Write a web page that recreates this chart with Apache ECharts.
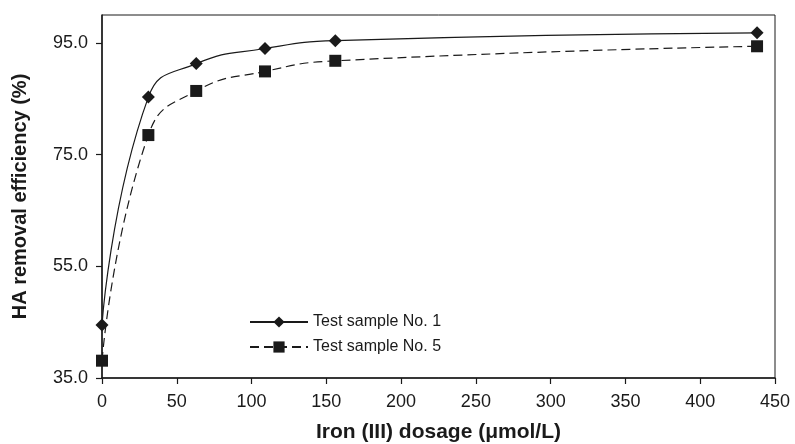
<!DOCTYPE html>
<html>
<head>
<meta charset="utf-8">
<script src="https://cdn.jsdelivr.net/npm/echarts@6/dist/echarts.min.js"></script>
<style>
  html, body { margin: 0; padding: 0; background: #fff; }
  #chart { width: 795px; height: 444px; }
</style>
</head>
<body>
<div id="chart"></div>
<script>
// dosage (umol/L) and removal efficiency (%)
const dosage = [0, 31, 63, 109, 156, 438]
const sample1 = [44.5, 85.3, 91.3, 94.0, 95.4, 96.8]
const sample5 = [38.1, 78.5, 86.4, 89.9, 91.8, 94.4]
const yTicks = [35, 55, 75, 95]

const FONT = '"Liberation Sans", Arial, sans-serif'
const INK = '#1a1a1a'

const pairs = (xs, ys) => xs.map((x, i) => [x, ys[i]])

var chart = echarts.init(document.getElementById('chart'), null, { renderer: 'canvas' })

chart.setOption({
  animation: false,
  backgroundColor: '#fff',
  textStyle: { fontFamily: FONT, color: INK },
  grid: {
    left: 102, right: 20, top: 15, bottom: 66,
    outerBoundsMode: 'none',
    containLabel: false,
    show: true, borderColor: INK, borderWidth: 1
  },
  legend: {
    orient: 'vertical',
    left: 244,
    top: 309,
    itemWidth: 58,
    itemHeight: 14,
    itemGap: 9,
    textStyle: { fontFamily: FONT, fontSize: 16, color: INK },
    data: ['Test sample No. 1', 'Test sample No. 5']
  },
  xAxis: {
    type: 'value',
    min: 0, max: 450, interval: 50,
    name: 'Iron (III) dosage (\u03bcmol/L)',
    nameLocation: 'middle',
    nameGap: 44,
    nameTextStyle: { fontFamily: FONT, fontSize: 21, fontWeight: 'bold', color: INK },
    axisLine: { onZero: false, lineStyle: { color: INK, width: 1.5 } },
    axisTick: { inside: false, length: 6, lineStyle: { color: INK, width: 1.2 } },
    axisLabel: { fontFamily: FONT, fontSize: 18, color: INK, margin: 15 },
    splitLine: { show: false }
  },
  yAxis: {
    type: 'value',
    min: 35, max: 100,
    name: 'HA removal efficiency (%)',
    nameLocation: 'middle',
    nameGap: 72,
    nameTextStyle: { fontFamily: FONT, fontSize: 20, fontWeight: 'bold', color: INK },
    axisLine: { show: true, onZero: false, lineStyle: { color: INK, width: 1.5 } },
    axisTick: { show: true, inside: false, length: 6, customValues: yTicks, lineStyle: { color: INK, width: 1.2 } },
    axisLabel: {
      fontFamily: FONT, fontSize: 18, color: INK, margin: 14,
      customValues: yTicks,
      formatter: v => v.toFixed(1)
    },
    splitLine: { show: false }
  },
  series: [
    {
      name: 'Test sample No. 1',
      type: 'line',
      smooth: 0.5,
      data: pairs(dosage, sample1),
      symbol: 'diamond',
      symbolSize: 13,
      itemStyle: { color: INK },
      lineStyle: { color: INK, width: 1.2, type: 'solid' },
      z: 3
    },
    {
      name: 'Test sample No. 5',
      type: 'line',
      smooth: 0.5,
      data: pairs(dosage, sample5),
      symbol: 'rect',
      symbolSize: 12,
      itemStyle: { color: INK },
      lineStyle: { color: INK, width: 1.2, type: [9, 5] },
      z: 2
    }
  ]
})
</script>
</body>
</html>
